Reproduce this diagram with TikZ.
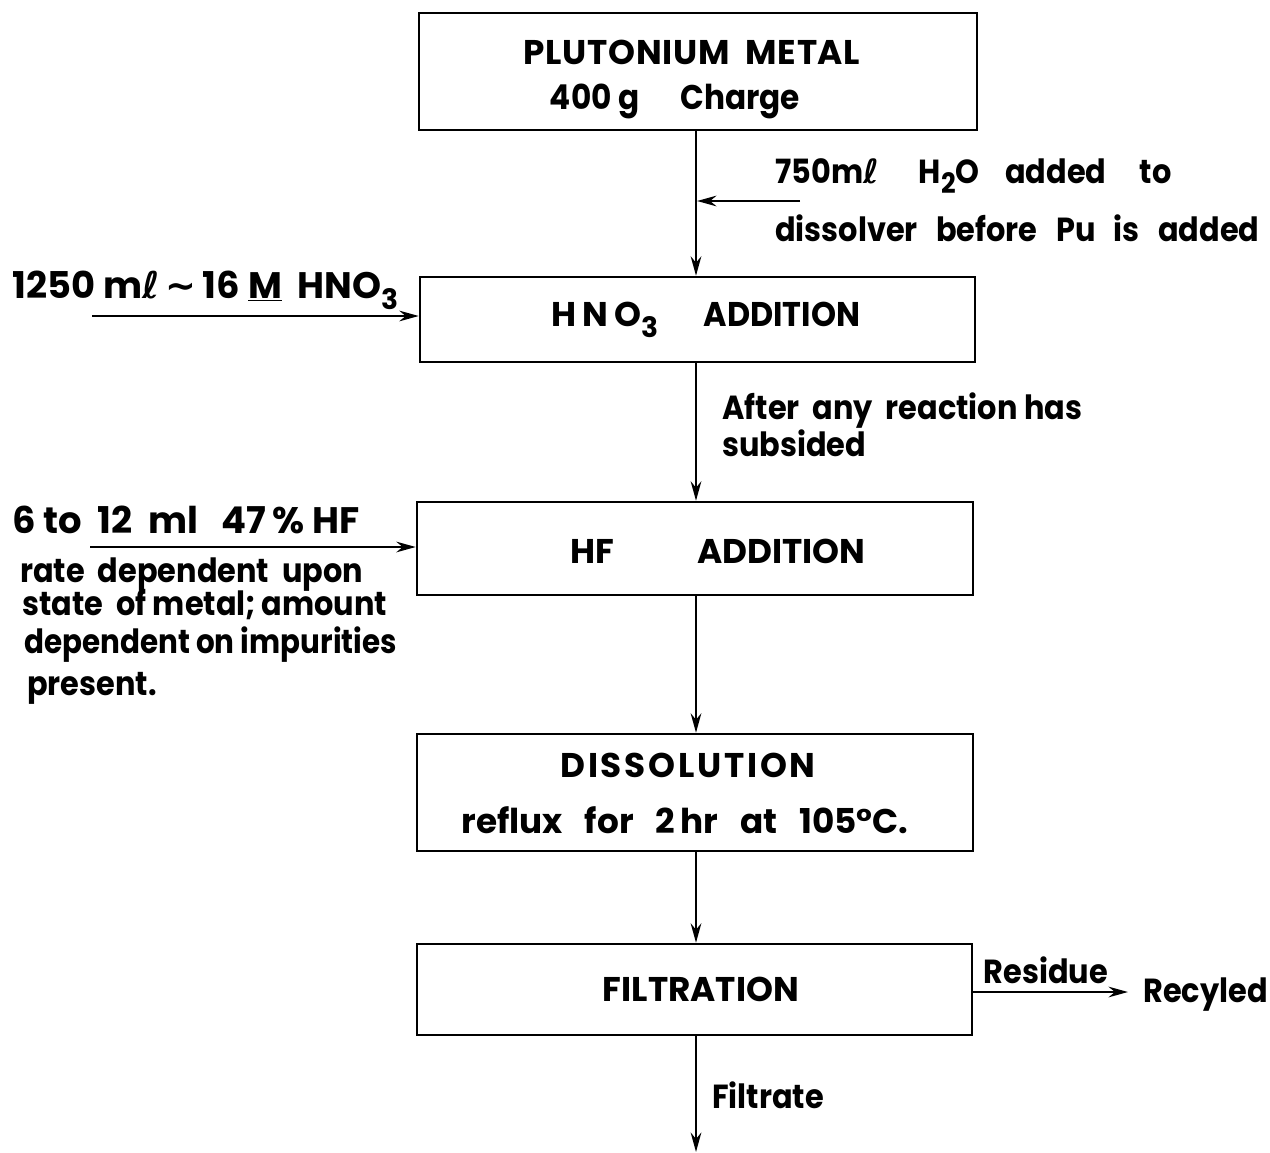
\documentclass[tikz,border=0pt]{standalone}
\usepackage{fontspec}
\setmainfont{Poppins}
\newfontfamily\dejavu{DejaVu Sans}
\newfontfamily\narrowfont[FakeStretch=0.91]{Poppins}
\usetikzlibrary{arrows.meta}
\newcommand\lsub[1]{\raisebox{-0.55ex}{\fontsize{16}{16}\selectfont #1}}
\newcommand\litre{{\dejavu\bfseries ℓ}}
\tikzset{
  box/.style={draw, line width=1.4pt, rectangle, inner sep=0pt},
  lbl/.style={font=\fontsize{19.5}{22}\selectfont\bfseries, inner sep=0pt},
  nlbl/.style={font=\fontsize{19}{22}\selectfont\narrowfont\bfseries, inner sep=0pt},
  llbl/.style={nlbl, anchor=west},
  flow/.style={line width=1.6pt, -{Stealth[length=11pt,width=6pt]}},
}
\begin{document}
\begin{tikzpicture}[x=0.02cm, y=-0.02cm]
\useasboundingbox (0,0) rectangle (1270,1152);
% boxes
\node[box, minimum width=558*0.02cm, minimum height=117*0.02cm] (b1) at (698,71.5) {};
\node[box, minimum width=555*0.02cm, minimum height=85*0.02cm] (b2) at (697.5,319.5) {};
\node[box, minimum width=556*0.02cm, minimum height=93*0.02cm] (b3) at (695,548.5) {};
\node[box, minimum width=556*0.02cm, minimum height=117*0.02cm] (b4) at (695,792.5) {};
\node[box, minimum width=555*0.02cm, minimum height=91*0.02cm] (b5) at (694.5,989.5) {};
% box texts
\node[lbl] (t1a) at (692,52) {\addfontfeature{LetterSpace=2}PLUTONIUM\ \ METAL};
\node[nlbl] (t1b) at (675,101) {\fontsize{19.5}{22}\selectfont 400 g\quad\ Charge};
\node[lbl] (t2) at (706,320) {H\,N\,O\lsub{3}\hspace{26pt}{\addfontfeature{FakeStretch=0.93}ADDITION}};
\node[lbl] (t3) at (718,551) {HF\qquad\ \ ADDITION};
\node[lbl] (t4a) at (688,765) {\addfontfeature{LetterSpace=8}DISSOLUTION};
\node[lbl] (t4b) at (685,820) {reflux\ \ \ for\ \ \ 2\,hr\ \ \ at\ \ \ 105°C.};
\node[lbl] (t5) at (701,989) {FILTRATION};
% main flow
\coordinate (vx) at (696,0);
\coordinate (w1) at (697,201);
\coordinate (w0) at (800,201);
\draw[flow] (b1.south -| vx) -- (b2.north -| vx);
\draw[flow] (w0) -- (w1);
\draw[flow] (b2.south -| vx) -- (b3.north -| vx);
\draw[flow] (b3.south -| vx) -- (b4.north -| vx);
\draw[flow] (b4.south -| vx) -- (b5.north -| vx);
\coordinate (fend) at (696,1152);
\draw[flow] (b5.south -| vx) -- (fend);
% side inputs
\coordinate (h0) at (92,316);
\draw[flow] (h0) -- (b2.west |- h0);
\coordinate (f0) at (90,547);
\draw[flow] (f0) -- (b3.west |- f0);
\coordinate (r1) at (1128,992);
\draw[flow] (b5.east |- r1) -- (r1);
% labels
\node[llbl] (l1a) at (775,176) {750m\litre\quad\ H\lsub{2}O\ \ \ \ added\quad to};
\node[llbl] (l1b) at (775,228) {dissolver\ \ \,before\ \ \,Pu\ \ \,is\ \ \,added};
\node[lbl, anchor=west] (l2) at (12,290) {\fontsize{21}{24}\selectfont 1250\ m\litre\,{\dejavu\bfseries ∼}\,16\ \underline{M}\ \ HNO\lsub{3}};
\node[llbl] (l3a) at (722,411) {After\ \ any\ \ reaction has};
\node[llbl] (l3b) at (722,443) {subsided};
\node[lbl, anchor=west] (l4) at (12,520) {\fontsize{21}{24}\selectfont 6\ to\ \ 12\ \ ml\ \ \ 47\,\%\ HF};
\node[llbl] (l5a) at (20,575) {rate\ \ dependent\ \ upon};
\node[llbl] (l5b) at (22,605) {state\ \ of\ metal;\,amount};
\node[llbl] (l5c) at (24,645) {\addfontfeature{FakeStretch=0.88}dependent\ on\ impurities};
\node[llbl] (l5d) at (27,688) {present.};
\node[nlbl] (res) at (1046,970) {Residue};
\node[nlbl, anchor=east] (rec) at (1268,995) {Recyled};
\node[llbl] (filt) at (712,1095) {Filtrate};
\end{tikzpicture}
\end{document}
